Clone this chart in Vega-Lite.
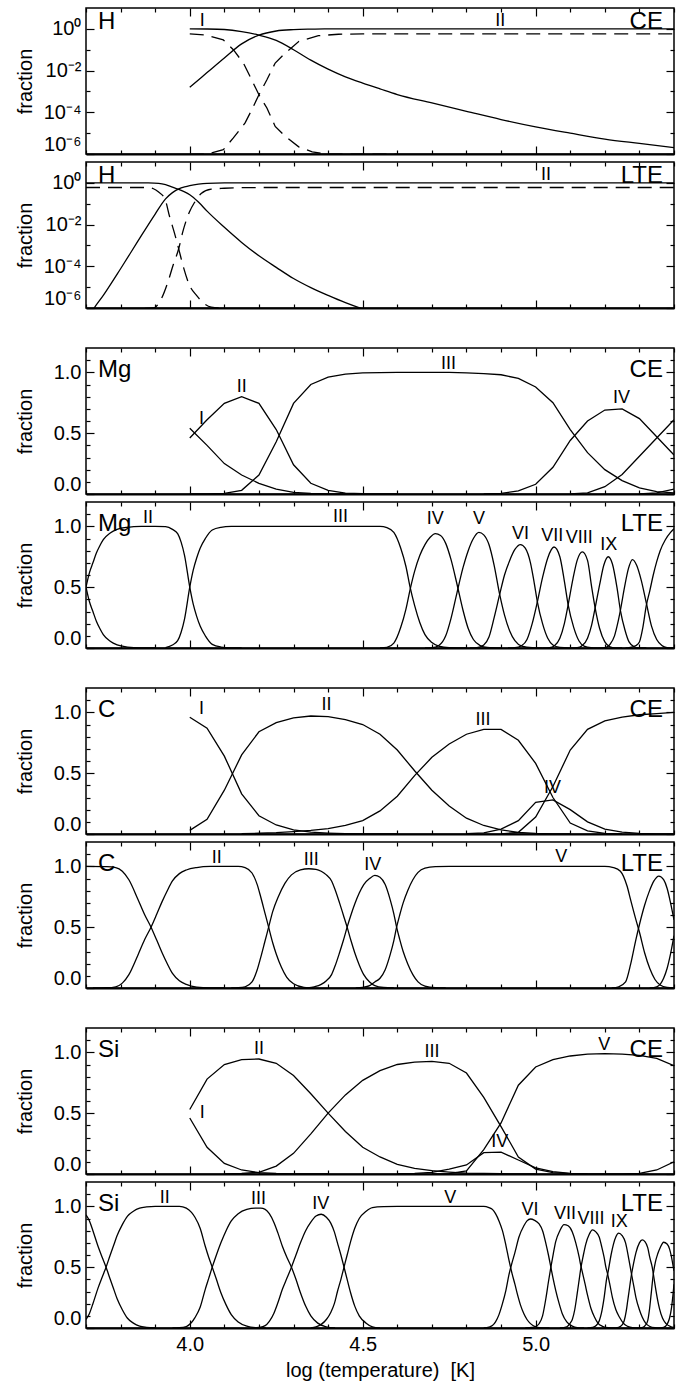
{
"$schema": "https://vega.github.io/schema/vega-lite/v6.json",
"padding": {"left": 14, "top": 6, "right": 5, "bottom": 5},
"config": {
 "font": "Liberation Sans",
 "view": {"stroke": "black", "strokeWidth": 1.5},
 "axis": {"labelFont": "Liberation Sans", "labelFontSize": 20, "labelColor": "black", "titleFont": "Liberation Sans", "titleFontSize": 20, "titleFontWeight": "normal", "titleColor": "black", "grid": false, "tickColor": "black", "tickWidth": 1.2, "domainColor": "black"},
 "text": {"font": "Liberation Sans", "color": "black"},
 "line": {"color": "black", "strokeWidth": 1.3}
},
"datasets": {
"hce": [
{"ion":"H I","logT":4.0,"frac":1.0},{"ion":"H I","logT":4.05,"frac":0.985},{"ion":"H I","logT":4.1,"frac":0.93},{"ion":"H I","logT":4.15,"frac":0.74},{"ion":"H I","logT":4.2,"frac":0.5},{"ion":"H I","logT":4.25,"frac":0.28},{"ion":"H I","logT":4.3,"frac":0.1},{"ion":"H I","logT":4.35,"frac":0.0316},{"ion":"H I","logT":4.4,"frac":0.0117},{"ion":"H I","logT":4.45,"frac":0.005},{"ion":"H I","logT":4.5,"frac":0.0025},{"ion":"H I","logT":4.55,"frac":0.00132},{"ion":"H I","logT":4.6,"frac":0.00071},{"ion":"H I","logT":4.7,"frac":0.00028},{"ion":"H I","logT":4.8,"frac":0.000112},{"ion":"H I","logT":4.9,"frac":0.000045},{"ion":"H I","logT":5.0,"frac":0.00002},{"ion":"H I","logT":5.1,"frac":0.00001},{"ion":"H I","logT":5.2,"frac":0.0000052},{"ion":"H I","logT":5.3,"frac":0.0000032},{"ion":"H I","logT":5.4,"frac":0.000002},
{"ion":"H II","logT":4.0,"frac":0.0016},{"ion":"H II","logT":4.05,"frac":0.008},{"ion":"H II","logT":4.1,"frac":0.04},{"ion":"H II","logT":4.15,"frac":0.19},{"ion":"H II","logT":4.2,"frac":0.5},{"ion":"H II","logT":4.25,"frac":0.79},{"ion":"H II","logT":4.3,"frac":0.92},{"ion":"H II","logT":4.35,"frac":0.97},{"ion":"H II","logT":4.4,"frac":0.99},{"ion":"H II","logT":4.5,"frac":0.998},{"ion":"H II","logT":4.7,"frac":1.0},{"ion":"H II","logT":5.4,"frac":1.0}
],
"hce2": [
{"ion":"H I'","logT":4.0,"frac":0.575},{"ion":"H I'","logT":4.044,"frac":0.51},{"ion":"H I'","logT":4.097,"frac":0.295},{"ion":"H I'","logT":4.126,"frac":0.1},{"ion":"H I'","logT":4.155,"frac":0.023},{"ion":"H I'","logT":4.179,"frac":0.0036},{"ion":"H I'","logT":4.2,"frac":0.00069},{"ion":"H I'","logT":4.223,"frac":0.00016},{"ion":"H I'","logT":4.247,"frac":0.000021},{"ion":"H I'","logT":4.276,"frac":0.0000071},{"ion":"H I'","logT":4.315,"frac":0.0000022},{"ion":"H I'","logT":4.354,"frac":0.00000126},{"ion":"H I'","logT":4.4,"frac":0.00000098},{"ion":"H I'","logT":4.6,"frac":0.00000097},
{"ion":"H II'","logT":4.0,"frac":0.00000097},{"ion":"H II'","logT":4.05,"frac":0.00000098},{"ion":"H II'","logT":4.097,"frac":0.0000016},{"ion":"H II'","logT":4.126,"frac":0.0000059},{"ion":"H II'","logT":4.16,"frac":0.000031},{"ion":"H II'","logT":4.179,"frac":0.00013},{"ion":"H II'","logT":4.2,"frac":0.00069},{"ion":"H II'","logT":4.223,"frac":0.0036},{"ion":"H II'","logT":4.247,"frac":0.023},{"ion":"H II'","logT":4.276,"frac":0.069},{"ion":"H II'","logT":4.315,"frac":0.245},{"ion":"H II'","logT":4.372,"frac":0.47},{"ion":"H II'","logT":4.43,"frac":0.55},{"ion":"H II'","logT":4.5,"frac":0.575},{"ion":"H II'","logT":5.4,"frac":0.575}
],
"hlte": [
{"ion":"H I","logT":3.7,"frac":1.0},{"ion":"H I","logT":3.85,"frac":0.998},{"ion":"H I","logT":3.88,"frac":0.99},{"ion":"H I","logT":3.91,"frac":0.95},{"ion":"H I","logT":3.93,"frac":0.83},{"ion":"H I","logT":3.95,"frac":0.63},{"ion":"H I","logT":3.97,"frac":0.47},{"ion":"H I","logT":3.985,"frac":0.37},{"ion":"H I","logT":4.0,"frac":0.27},{"ion":"H I","logT":4.025,"frac":0.12},{"ion":"H I","logT":4.05,"frac":0.044},{"ion":"H I","logT":4.1,"frac":0.0074},{"ion":"H I","logT":4.15,"frac":0.0014},{"ion":"H I","logT":4.2,"frac":0.00032},{"ion":"H I","logT":4.25,"frac":0.000089},{"ion":"H I","logT":4.3,"frac":0.000026},{"ion":"H I","logT":4.35,"frac":0.0000095},{"ion":"H I","logT":4.4,"frac":0.000004},{"ion":"H I","logT":4.45,"frac":0.0000018},{"ion":"H I","logT":4.5,"frac":0.0000009},{"ion":"H I","logT":4.55,"frac":0.0000005},
{"ion":"H II","logT":3.7,"frac":0.0000002},{"ion":"H II","logT":3.72,"frac":0.0000008},{"ion":"H II","logT":3.75,"frac":0.000004},{"ion":"H II","logT":3.8,"frac":0.000076},{"ion":"H II","logT":3.85,"frac":0.0016},{"ion":"H II","logT":3.9,"frac":0.032},{"ion":"H II","logT":3.93,"frac":0.17},{"ion":"H II","logT":3.95,"frac":0.34},{"ion":"H II","logT":3.97,"frac":0.53},{"ion":"H II","logT":3.985,"frac":0.64},{"ion":"H II","logT":4.0,"frac":0.74},{"ion":"H II","logT":4.025,"frac":0.87},{"ion":"H II","logT":4.05,"frac":0.95},{"ion":"H II","logT":4.1,"frac":0.99},{"ion":"H II","logT":4.2,"frac":1.0},{"ion":"H II","logT":5.4,"frac":1.0}
],
"hlte2": [
{"ion":"H I'","logT":3.7,"frac":0.6},{"ion":"H I'","logT":3.88,"frac":0.6},{"ion":"H I'","logT":3.895,"frac":0.52},{"ion":"H I'","logT":3.909,"frac":0.37},{"ion":"H I'","logT":3.928,"frac":0.17},{"ion":"H I'","logT":3.942,"frac":0.023},{"ion":"H I'","logT":3.956,"frac":0.0038},{"ion":"H I'","logT":3.968,"frac":0.00069},{"ion":"H I'","logT":3.98,"frac":0.000115},{"ion":"H I'","logT":3.999,"frac":0.0000126},{"ion":"H I'","logT":4.019,"frac":0.0000041},{"ion":"H I'","logT":4.062,"frac":0.0000011},{"ion":"H I'","logT":4.1,"frac":0.00000097},
{"ion":"H II'","logT":3.87,"frac":0.00000097},{"ion":"H II'","logT":3.894,"frac":0.000001},{"ion":"H II'","logT":3.918,"frac":0.0000028},{"ion":"H II'","logT":3.937,"frac":0.000018},{"ion":"H II'","logT":3.952,"frac":0.000115},{"ion":"H II'","logT":3.968,"frac":0.00069},{"ion":"H II'","logT":3.98,"frac":0.0046},{"ion":"H II'","logT":3.999,"frac":0.04},{"ion":"H II'","logT":4.014,"frac":0.117},{"ion":"H II'","logT":4.033,"frac":0.31},{"ion":"H II'","logT":4.062,"frac":0.5},{"ion":"H II'","logT":4.1,"frac":0.55},{"ion":"H II'","logT":4.15,"frac":0.59},{"ion":"H II'","logT":4.25,"frac":0.6},{"ion":"H II'","logT":5.4,"frac":0.6}
],
"mgce": [
{"ion":"I","logT":4.0,"frac":0.54},{"ion":"I","logT":4.05,"frac":0.40},{"ion":"I","logT":4.1,"frac":0.25},{"ion":"I","logT":4.15,"frac":0.156},{"ion":"I","logT":4.2,"frac":0.088},{"ion":"I","logT":4.25,"frac":0.04},{"ion":"I","logT":4.3,"frac":0.014},{"ion":"I","logT":4.35,"frac":0.004},{"ion":"I","logT":4.4,"frac":0.001},{"ion":"I","logT":4.5,"frac":0},
{"ion":"II","logT":4.0,"frac":0.46},{"ion":"II","logT":4.05,"frac":0.61},{"ion":"II","logT":4.1,"frac":0.745},{"ion":"II","logT":4.15,"frac":0.8},{"ion":"II","logT":4.2,"frac":0.745},{"ion":"II","logT":4.25,"frac":0.53},{"ion":"II","logT":4.3,"frac":0.24},{"ion":"II","logT":4.35,"frac":0.088},{"ion":"II","logT":4.4,"frac":0.03},{"ion":"II","logT":4.45,"frac":0.008},{"ion":"II","logT":4.5,"frac":0.002},{"ion":"II","logT":4.6,"frac":0},
{"ion":"III","logT":4.0,"frac":0},{"ion":"III","logT":4.05,"frac":0.001},{"ion":"III","logT":4.1,"frac":0.005},{"ion":"III","logT":4.15,"frac":0.03},{"ion":"III","logT":4.2,"frac":0.156},{"ion":"III","logT":4.25,"frac":0.43},{"ion":"III","logT":4.3,"frac":0.745},{"ion":"III","logT":4.35,"frac":0.9},{"ion":"III","logT":4.4,"frac":0.96},{"ion":"III","logT":4.45,"frac":0.985},{"ion":"III","logT":4.5,"frac":0.995},{"ion":"III","logT":4.6,"frac":1.0},{"ion":"III","logT":4.75,"frac":1.0},{"ion":"III","logT":4.8,"frac":0.995},{"ion":"III","logT":4.85,"frac":0.99},{"ion":"III","logT":4.9,"frac":0.98},{"ion":"III","logT":4.95,"frac":0.95},{"ion":"III","logT":5.0,"frac":0.88},{"ion":"III","logT":5.05,"frac":0.75},{"ion":"III","logT":5.1,"frac":0.53},{"ion":"III","logT":5.15,"frac":0.34},{"ion":"III","logT":5.2,"frac":0.2},{"ion":"III","logT":5.25,"frac":0.11},{"ion":"III","logT":5.3,"frac":0.05},{"ion":"III","logT":5.35,"frac":0.02},{"ion":"III","logT":5.4,"frac":0.01},
{"ion":"IV","logT":4.85,"frac":0},{"ion":"IV","logT":4.9,"frac":0.005},{"ion":"IV","logT":4.95,"frac":0.025},{"ion":"IV","logT":5.0,"frac":0.08},{"ion":"IV","logT":5.05,"frac":0.22},{"ion":"IV","logT":5.1,"frac":0.44},{"ion":"IV","logT":5.15,"frac":0.6},{"ion":"IV","logT":5.2,"frac":0.69},{"ion":"IV","logT":5.25,"frac":0.7},{"ion":"IV","logT":5.3,"frac":0.62},{"ion":"IV","logT":5.35,"frac":0.47},{"ion":"IV","logT":5.4,"frac":0.32},
{"ion":"V","logT":5.1,"frac":0},{"ion":"V","logT":5.15,"frac":0.01},{"ion":"V","logT":5.2,"frac":0.06},{"ion":"V","logT":5.25,"frac":0.16},{"ion":"V","logT":5.3,"frac":0.31},{"ion":"V","logT":5.35,"frac":0.46},{"ion":"V","logT":5.4,"frac":0.61},
{"ion":"VI","logT":5.3,"frac":0},{"ion":"VI","logT":5.35,"frac":0.01},{"ion":"VI","logT":5.4,"frac":0.04}
],
"mglte": [
{"ion":"I","logT":3.7,"frac":0.5},{"ion":"I","logT":3.71,"frac":0.38},{"ion":"I","logT":3.72,"frac":0.3},{"ion":"I","logT":3.73,"frac":0.22},{"ion":"I","logT":3.74,"frac":0.16},{"ion":"I","logT":3.75,"frac":0.11},{"ion":"I","logT":3.77,"frac":0.055},{"ion":"I","logT":3.79,"frac":0.025},{"ion":"I","logT":3.82,"frac":0.008},{"ion":"I","logT":3.86,"frac":0.001},{"ion":"I","logT":3.9,"frac":0},
{"ion":"II","logT":3.7,"frac":0.5},{"ion":"II","logT":3.71,"frac":0.62},{"ion":"II","logT":3.72,"frac":0.7},{"ion":"II","logT":3.73,"frac":0.78},{"ion":"II","logT":3.74,"frac":0.84},{"ion":"II","logT":3.75,"frac":0.89},{"ion":"II","logT":3.77,"frac":0.945},{"ion":"II","logT":3.79,"frac":0.975},{"ion":"II","logT":3.82,"frac":0.992},{"ion":"II","logT":3.86,"frac":0.999},{"ion":"II","logT":3.9,"frac":1.0},{"ion":"II","logT":3.93,"frac":0.997},{"ion":"II","logT":3.95,"frac":0.975},{"ion":"II","logT":3.965,"frac":0.94},{"ion":"II","logT":3.975,"frac":0.87},{"ion":"II","logT":3.985,"frac":0.76},{"ion":"II","logT":4.0,"frac":0.5},{"ion":"II","logT":4.01,"frac":0.36},{"ion":"II","logT":4.02,"frac":0.26},{"ion":"II","logT":4.03,"frac":0.18},{"ion":"II","logT":4.045,"frac":0.1},{"ion":"II","logT":4.065,"frac":0.03},{"ion":"II","logT":4.09,"frac":0.008},{"ion":"II","logT":4.12,"frac":0.001},{"ion":"II","logT":4.15,"frac":0},
{"ion":"III","logT":3.93,"frac":0.003},{"ion":"III","logT":3.95,"frac":0.025},{"ion":"III","logT":3.965,"frac":0.06},{"ion":"III","logT":3.975,"frac":0.13},{"ion":"III","logT":3.985,"frac":0.24},{"ion":"III","logT":4.0,"frac":0.5},{"ion":"III","logT":4.01,"frac":0.64},{"ion":"III","logT":4.02,"frac":0.74},{"ion":"III","logT":4.03,"frac":0.82},{"ion":"III","logT":4.045,"frac":0.9},{"ion":"III","logT":4.065,"frac":0.97},{"ion":"III","logT":4.09,"frac":0.992},{"ion":"III","logT":4.12,"frac":0.999},{"ion":"III","logT":4.15,"frac":1.0},{"ion":"III","logT":4.55,"frac":1.0},{"ion":"III","logT":4.57,"frac":0.99},{"ion":"III","logT":4.59,"frac":0.95},{"ion":"III","logT":4.61,"frac":0.82},{"ion":"III","logT":4.625,"frac":0.67},{"ion":"III","logT":4.637,"frac":0.5},{"ion":"III","logT":4.65,"frac":0.35},{"ion":"III","logT":4.665,"frac":0.21},{"ion":"III","logT":4.68,"frac":0.11},{"ion":"III","logT":4.7,"frac":0.045},{"ion":"III","logT":4.72,"frac":0.015},{"ion":"III","logT":4.75,"frac":0.002},{"ion":"III","logT":4.8,"frac":0},
{"ion":"IV","logT":4.55,"frac":0},{"ion":"IV","logT":4.57,"frac":0.005},{"ion":"IV","logT":4.59,"frac":0.04},{"ion":"IV","logT":4.61,"frac":0.17},{"ion":"IV","logT":4.625,"frac":0.32},{"ion":"IV","logT":4.637,"frac":0.48},{"ion":"IV","logT":4.65,"frac":0.63},{"ion":"IV","logT":4.665,"frac":0.76},{"ion":"IV","logT":4.68,"frac":0.85},{"ion":"IV","logT":4.695,"frac":0.91},{"ion":"IV","logT":4.71,"frac":0.94},{"ion":"IV","logT":4.725,"frac":0.925},{"ion":"IV","logT":4.74,"frac":0.86},{"ion":"IV","logT":4.755,"frac":0.73},{"ion":"IV","logT":4.773,"frac":0.52},{"ion":"IV","logT":4.79,"frac":0.31},{"ion":"IV","logT":4.805,"frac":0.16},{"ion":"IV","logT":4.82,"frac":0.07},{"ion":"IV","logT":4.84,"frac":0.02},{"ion":"IV","logT":4.86,"frac":0.004},{"ion":"IV","logT":4.9,"frac":0},
{"ion":"V","logT":4.68,"frac":0},{"ion":"V","logT":4.7,"frac":0.002},{"ion":"V","logT":4.72,"frac":0.02},{"ion":"V","logT":4.74,"frac":0.1},{"ion":"V","logT":4.755,"frac":0.24},{"ion":"V","logT":4.773,"frac":0.46},{"ion":"V","logT":4.79,"frac":0.66},{"ion":"V","logT":4.805,"frac":0.8},{"ion":"V","logT":4.82,"frac":0.9},{"ion":"V","logT":4.836,"frac":0.95},{"ion":"V","logT":4.85,"frac":0.93},{"ion":"V","logT":4.865,"frac":0.85},{"ion":"V","logT":4.88,"frac":0.68},{"ion":"V","logT":4.896,"frac":0.44},{"ion":"V","logT":4.91,"frac":0.27},{"ion":"V","logT":4.925,"frac":0.14},{"ion":"V","logT":4.94,"frac":0.06},{"ion":"V","logT":4.96,"frac":0.015},{"ion":"V","logT":4.99,"frac":0.002},{"ion":"V","logT":5.02,"frac":0},
{"ion":"VI","logT":4.81,"frac":0},{"ion":"VI","logT":4.83,"frac":0.002},{"ion":"VI","logT":4.85,"frac":0.025},{"ion":"VI","logT":4.865,"frac":0.09},{"ion":"VI","logT":4.88,"frac":0.25},{"ion":"VI","logT":4.896,"frac":0.44},{"ion":"VI","logT":4.91,"frac":0.6},{"ion":"VI","logT":4.925,"frac":0.72},{"ion":"VI","logT":4.94,"frac":0.81},{"ion":"VI","logT":4.956,"frac":0.85},{"ion":"VI","logT":4.97,"frac":0.82},{"ion":"VI","logT":4.985,"frac":0.7},{"ion":"VI","logT":4.995,"frac":0.55},{"ion":"VI","logT":5.005,"frac":0.38},{"ion":"VI","logT":5.02,"frac":0.2},{"ion":"VI","logT":5.035,"frac":0.08},{"ion":"VI","logT":5.05,"frac":0.025},{"ion":"VI","logT":5.07,"frac":0.005},{"ion":"VI","logT":5.1,"frac":0},
{"ion":"VII","logT":4.92,"frac":0},{"ion":"VII","logT":4.94,"frac":0.002},{"ion":"VII","logT":4.96,"frac":0.02},{"ion":"VII","logT":4.975,"frac":0.07},{"ion":"VII","logT":4.99,"frac":0.2},{"ion":"VII","logT":5.005,"frac":0.38},{"ion":"VII","logT":5.02,"frac":0.58},{"ion":"VII","logT":5.035,"frac":0.74},{"ion":"VII","logT":5.053,"frac":0.83},{"ion":"VII","logT":5.07,"frac":0.75},{"ion":"VII","logT":5.083,"frac":0.55},{"ion":"VII","logT":5.094,"frac":0.355},{"ion":"VII","logT":5.11,"frac":0.17},{"ion":"VII","logT":5.125,"frac":0.06},{"ion":"VII","logT":5.14,"frac":0.015},{"ion":"VII","logT":5.16,"frac":0.002},{"ion":"VII","logT":5.18,"frac":0},
{"ion":"VIII","logT":5.02,"frac":0},{"ion":"VIII","logT":5.04,"frac":0.002},{"ion":"VIII","logT":5.055,"frac":0.02},{"ion":"VIII","logT":5.07,"frac":0.08},{"ion":"VIII","logT":5.083,"frac":0.2},{"ion":"VIII","logT":5.094,"frac":0.355},{"ion":"VIII","logT":5.108,"frac":0.57},{"ion":"VIII","logT":5.12,"frac":0.72},{"ion":"VIII","logT":5.135,"frac":0.79},{"ion":"VIII","logT":5.15,"frac":0.72},{"ion":"VIII","logT":5.162,"frac":0.5},{"ion":"VIII","logT":5.172,"frac":0.33},{"ion":"VIII","logT":5.185,"frac":0.16},{"ion":"VIII","logT":5.2,"frac":0.05},{"ion":"VIII","logT":5.215,"frac":0.01},{"ion":"VIII","logT":5.23,"frac":0.001},{"ion":"VIII","logT":5.25,"frac":0},
{"ion":"IX","logT":5.1,"frac":0},{"ion":"IX","logT":5.12,"frac":0.002},{"ion":"IX","logT":5.135,"frac":0.02},{"ion":"IX","logT":5.15,"frac":0.08},{"ion":"IX","logT":5.162,"frac":0.19},{"ion":"IX","logT":5.172,"frac":0.33},{"ion":"IX","logT":5.185,"frac":0.52},{"ion":"IX","logT":5.197,"frac":0.68},{"ion":"IX","logT":5.21,"frac":0.75},{"ion":"IX","logT":5.222,"frac":0.69},{"ion":"IX","logT":5.235,"frac":0.5},{"ion":"IX","logT":5.245,"frac":0.31},{"ion":"IX","logT":5.258,"frac":0.15},{"ion":"IX","logT":5.27,"frac":0.05},{"ion":"IX","logT":5.285,"frac":0.01},{"ion":"IX","logT":5.3,"frac":0.001},{"ion":"IX","logT":5.32,"frac":0},
{"ion":"X","logT":5.18,"frac":0},{"ion":"X","logT":5.2,"frac":0.002},{"ion":"X","logT":5.215,"frac":0.03},{"ion":"X","logT":5.228,"frac":0.1},{"ion":"X","logT":5.237,"frac":0.2},{"ion":"X","logT":5.245,"frac":0.31},{"ion":"X","logT":5.257,"frac":0.5},{"ion":"X","logT":5.268,"frac":0.65},{"ion":"X","logT":5.28,"frac":0.727},{"ion":"X","logT":5.292,"frac":0.68},{"ion":"X","logT":5.305,"frac":0.56},{"ion":"X","logT":5.32,"frac":0.37},{"ion":"X","logT":5.335,"frac":0.18},{"ion":"X","logT":5.35,"frac":0.07},{"ion":"X","logT":5.365,"frac":0.02},{"ion":"X","logT":5.38,"frac":0.003},{"ion":"X","logT":5.4,"frac":0},
{"ion":"XI","logT":5.26,"frac":0},{"ion":"XI","logT":5.27,"frac":0.002},{"ion":"XI","logT":5.29,"frac":0.02},{"ion":"XI","logT":5.3,"frac":0.05},{"ion":"XI","logT":5.31,"frac":0.17},{"ion":"XI","logT":5.32,"frac":0.35},{"ion":"XI","logT":5.33,"frac":0.47},{"ion":"XI","logT":5.34,"frac":0.6},{"ion":"XI","logT":5.35,"frac":0.71},{"ion":"XI","logT":5.36,"frac":0.8},{"ion":"XI","logT":5.375,"frac":0.89},{"ion":"XI","logT":5.39,"frac":0.95},{"ion":"XI","logT":5.4,"frac":0.98}
],
"cce": [
{"ion":"I","logT":4.0,"frac":0.96},{"ion":"I","logT":4.05,"frac":0.87},{"ion":"I","logT":4.1,"frac":0.64},{"ion":"I","logT":4.15,"frac":0.33},{"ion":"I","logT":4.2,"frac":0.15},{"ion":"I","logT":4.25,"frac":0.074},{"ion":"I","logT":4.3,"frac":0.033},{"ion":"I","logT":4.35,"frac":0.016},{"ion":"I","logT":4.4,"frac":0.008},{"ion":"I","logT":4.45,"frac":0.003},{"ion":"I","logT":4.5,"frac":0.001},{"ion":"I","logT":4.6,"frac":0},
{"ion":"II","logT":4.0,"frac":0.03},{"ion":"II","logT":4.05,"frac":0.12},{"ion":"II","logT":4.1,"frac":0.36},{"ion":"II","logT":4.15,"frac":0.65},{"ion":"II","logT":4.2,"frac":0.84},{"ion":"II","logT":4.25,"frac":0.915},{"ion":"II","logT":4.3,"frac":0.955},{"ion":"II","logT":4.35,"frac":0.97},{"ion":"II","logT":4.4,"frac":0.965},{"ion":"II","logT":4.45,"frac":0.94},{"ion":"II","logT":4.5,"frac":0.9},{"ion":"II","logT":4.55,"frac":0.82},{"ion":"II","logT":4.6,"frac":0.69},{"ion":"II","logT":4.65,"frac":0.52},{"ion":"II","logT":4.7,"frac":0.36},{"ion":"II","logT":4.75,"frac":0.23},{"ion":"II","logT":4.8,"frac":0.13},{"ion":"II","logT":4.85,"frac":0.07},{"ion":"II","logT":4.9,"frac":0.033},{"ion":"II","logT":4.95,"frac":0.014},{"ion":"II","logT":5.0,"frac":0.005},{"ion":"II","logT":5.05,"frac":0.001},{"ion":"II","logT":5.1,"frac":0},
{"ion":"III","logT":4.15,"frac":0.003},{"ion":"III","logT":4.2,"frac":0.006},{"ion":"III","logT":4.25,"frac":0.011},{"ion":"III","logT":4.3,"frac":0.02},{"ion":"III","logT":4.35,"frac":0.03},{"ion":"III","logT":4.4,"frac":0.045},{"ion":"III","logT":4.45,"frac":0.07},{"ion":"III","logT":4.5,"frac":0.11},{"ion":"III","logT":4.55,"frac":0.19},{"ion":"III","logT":4.6,"frac":0.31},{"ion":"III","logT":4.65,"frac":0.48},{"ion":"III","logT":4.7,"frac":0.63},{"ion":"III","logT":4.75,"frac":0.74},{"ion":"III","logT":4.8,"frac":0.82},{"ion":"III","logT":4.85,"frac":0.86},{"ion":"III","logT":4.9,"frac":0.86},{"ion":"III","logT":4.95,"frac":0.77},{"ion":"III","logT":5.0,"frac":0.58},{"ion":"III","logT":5.05,"frac":0.3},{"ion":"III","logT":5.1,"frac":0.09},{"ion":"III","logT":5.15,"frac":0.025},{"ion":"III","logT":5.2,"frac":0.005},{"ion":"III","logT":5.25,"frac":0},
{"ion":"IV","logT":4.8,"frac":0.003},{"ion":"IV","logT":4.85,"frac":0.01},{"ion":"IV","logT":4.9,"frac":0.04},{"ion":"IV","logT":4.95,"frac":0.11},{"ion":"IV","logT":5.0,"frac":0.26},{"ion":"IV","logT":5.05,"frac":0.28},{"ion":"IV","logT":5.1,"frac":0.2},{"ion":"IV","logT":5.15,"frac":0.1},{"ion":"IV","logT":5.2,"frac":0.04},{"ion":"IV","logT":5.25,"frac":0.015},{"ion":"IV","logT":5.3,"frac":0.005},{"ion":"IV","logT":5.35,"frac":0.001},{"ion":"IV","logT":5.4,"frac":0},
{"ion":"V","logT":4.9,"frac":0.001},{"ion":"V","logT":4.95,"frac":0.014},{"ion":"V","logT":5.0,"frac":0.14},{"ion":"V","logT":5.05,"frac":0.39},{"ion":"V","logT":5.1,"frac":0.69},{"ion":"V","logT":5.15,"frac":0.86},{"ion":"V","logT":5.2,"frac":0.93},{"ion":"V","logT":5.25,"frac":0.96},{"ion":"V","logT":5.3,"frac":0.98},{"ion":"V","logT":5.35,"frac":0.99},{"ion":"V","logT":5.4,"frac":1.0}
],
"clte": [
{"ion":"I","logT":3.7,"frac":1.0},{"ion":"I","logT":3.76,"frac":0.998},{"ion":"I","logT":3.786,"frac":0.99},{"ion":"I","logT":3.805,"frac":0.96},{"ion":"I","logT":3.824,"frac":0.89},{"ion":"I","logT":3.85,"frac":0.73},{"ion":"I","logT":3.87,"frac":0.6},{"ion":"I","logT":3.888,"frac":0.5},{"ion":"I","logT":3.905,"frac":0.39},{"ion":"I","logT":3.92,"frac":0.29},{"ion":"I","logT":3.935,"frac":0.2},{"ion":"I","logT":3.95,"frac":0.12},{"ion":"I","logT":3.97,"frac":0.06},{"ion":"I","logT":3.99,"frac":0.03},{"ion":"I","logT":4.02,"frac":0.008},{"ion":"I","logT":4.06,"frac":0.001},{"ion":"I","logT":4.1,"frac":0},
{"ion":"II","logT":3.72,"frac":0},{"ion":"II","logT":3.76,"frac":0.002},{"ion":"II","logT":3.786,"frac":0.01},{"ion":"II","logT":3.805,"frac":0.04},{"ion":"II","logT":3.824,"frac":0.11},{"ion":"II","logT":3.85,"frac":0.27},{"ion":"II","logT":3.87,"frac":0.4},{"ion":"II","logT":3.888,"frac":0.5},{"ion":"II","logT":3.905,"frac":0.61},{"ion":"II","logT":3.92,"frac":0.71},{"ion":"II","logT":3.935,"frac":0.8},{"ion":"II","logT":3.95,"frac":0.88},{"ion":"II","logT":3.97,"frac":0.94},{"ion":"II","logT":3.99,"frac":0.97},{"ion":"II","logT":4.02,"frac":0.99},{"ion":"II","logT":4.06,"frac":0.999},{"ion":"II","logT":4.1,"frac":1.0},{"ion":"II","logT":4.14,"frac":1.0},{"ion":"II","logT":4.16,"frac":0.99},{"ion":"II","logT":4.18,"frac":0.945},{"ion":"II","logT":4.195,"frac":0.85},{"ion":"II","logT":4.205,"frac":0.75},{"ion":"II","logT":4.217,"frac":0.62},{"ion":"II","logT":4.228,"frac":0.5},{"ion":"II","logT":4.24,"frac":0.37},{"ion":"II","logT":4.25,"frac":0.28},{"ion":"II","logT":4.265,"frac":0.17},{"ion":"II","logT":4.28,"frac":0.09},{"ion":"II","logT":4.3,"frac":0.035},{"ion":"II","logT":4.33,"frac":0.006},{"ion":"II","logT":4.36,"frac":0},
{"ion":"III","logT":4.12,"frac":0},{"ion":"III","logT":4.14,"frac":0.002},{"ion":"III","logT":4.16,"frac":0.01},{"ion":"III","logT":4.18,"frac":0.05},{"ion":"III","logT":4.195,"frac":0.15},{"ion":"III","logT":4.205,"frac":0.25},{"ion":"III","logT":4.217,"frac":0.38},{"ion":"III","logT":4.228,"frac":0.5},{"ion":"III","logT":4.24,"frac":0.63},{"ion":"III","logT":4.256,"frac":0.75},{"ion":"III","logT":4.275,"frac":0.86},{"ion":"III","logT":4.294,"frac":0.93},{"ion":"III","logT":4.32,"frac":0.97},{"ion":"III","logT":4.344,"frac":0.98},{"ion":"III","logT":4.365,"frac":0.975},{"ion":"III","logT":4.38,"frac":0.96},{"ion":"III","logT":4.395,"frac":0.93},{"ion":"III","logT":4.41,"frac":0.88},{"ion":"III","logT":4.42,"frac":0.81},{"ion":"III","logT":4.433,"frac":0.7},{"ion":"III","logT":4.444,"frac":0.6},{"ion":"III","logT":4.455,"frac":0.5},{"ion":"III","logT":4.466,"frac":0.39},{"ion":"III","logT":4.477,"frac":0.29},{"ion":"III","logT":4.49,"frac":0.19},{"ion":"III","logT":4.503,"frac":0.11},{"ion":"III","logT":4.52,"frac":0.05},{"ion":"III","logT":4.535,"frac":0.02},{"ion":"III","logT":4.56,"frac":0.004},{"ion":"III","logT":4.59,"frac":0},
{"ion":"IV","logT":4.34,"frac":0},{"ion":"IV","logT":4.36,"frac":0.01},{"ion":"IV","logT":4.38,"frac":0.03},{"ion":"IV","logT":4.395,"frac":0.06},{"ion":"IV","logT":4.41,"frac":0.11},{"ion":"IV","logT":4.42,"frac":0.18},{"ion":"IV","logT":4.433,"frac":0.29},{"ion":"IV","logT":4.444,"frac":0.39},{"ion":"IV","logT":4.455,"frac":0.5},{"ion":"IV","logT":4.466,"frac":0.6},{"ion":"IV","logT":4.477,"frac":0.69},{"ion":"IV","logT":4.49,"frac":0.78},{"ion":"IV","logT":4.503,"frac":0.85},{"ion":"IV","logT":4.52,"frac":0.9},{"ion":"IV","logT":4.535,"frac":0.925},{"ion":"IV","logT":4.55,"frac":0.91},{"ion":"IV","logT":4.565,"frac":0.85},{"ion":"IV","logT":4.58,"frac":0.72},{"ion":"IV","logT":4.59,"frac":0.61},{"ion":"IV","logT":4.598,"frac":0.5},{"ion":"IV","logT":4.607,"frac":0.4},{"ion":"IV","logT":4.617,"frac":0.3},{"ion":"IV","logT":4.63,"frac":0.2},{"ion":"IV","logT":4.645,"frac":0.11},{"ion":"IV","logT":4.66,"frac":0.05},{"ion":"IV","logT":4.68,"frac":0.015},{"ion":"IV","logT":4.71,"frac":0.002},{"ion":"IV","logT":4.74,"frac":0},
{"ion":"V","logT":4.48,"frac":0},{"ion":"V","logT":4.5,"frac":0.005},{"ion":"V","logT":4.52,"frac":0.02},{"ion":"V","logT":4.535,"frac":0.05},{"ion":"V","logT":4.55,"frac":0.08},{"ion":"V","logT":4.565,"frac":0.15},{"ion":"V","logT":4.58,"frac":0.28},{"ion":"V","logT":4.59,"frac":0.39},{"ion":"V","logT":4.598,"frac":0.5},{"ion":"V","logT":4.607,"frac":0.6},{"ion":"V","logT":4.617,"frac":0.7},{"ion":"V","logT":4.63,"frac":0.8},{"ion":"V","logT":4.645,"frac":0.89},{"ion":"V","logT":4.66,"frac":0.95},{"ion":"V","logT":4.68,"frac":0.985},{"ion":"V","logT":4.71,"frac":0.998},{"ion":"V","logT":4.75,"frac":1.0},{"ion":"V","logT":5.2,"frac":1.0},{"ion":"V","logT":5.225,"frac":0.99},{"ion":"V","logT":5.245,"frac":0.96},{"ion":"V","logT":5.264,"frac":0.84},{"ion":"V","logT":5.275,"frac":0.72},{"ion":"V","logT":5.29,"frac":0.56},{"ion":"V","logT":5.3,"frac":0.46},{"ion":"V","logT":5.315,"frac":0.29},{"ion":"V","logT":5.33,"frac":0.16},{"ion":"V","logT":5.345,"frac":0.07},{"ion":"V","logT":5.36,"frac":0.025},{"ion":"V","logT":5.38,"frac":0.005},{"ion":"V","logT":5.4,"frac":0.001},
{"ion":"VI","logT":5.22,"frac":0},{"ion":"VI","logT":5.24,"frac":0.01},{"ion":"VI","logT":5.26,"frac":0.05},{"ion":"VI","logT":5.275,"frac":0.2},{"ion":"VI","logT":5.29,"frac":0.4},{"ion":"VI","logT":5.3,"frac":0.52},{"ion":"VI","logT":5.315,"frac":0.68},{"ion":"VI","logT":5.328,"frac":0.79},{"ion":"VI","logT":5.342,"frac":0.88},{"ion":"VI","logT":5.356,"frac":0.92},{"ion":"VI","logT":5.37,"frac":0.89},{"ion":"VI","logT":5.38,"frac":0.82},{"ion":"VI","logT":5.39,"frac":0.7},{"ion":"VI","logT":5.4,"frac":0.56},
{"ion":"VII","logT":5.33,"frac":0},{"ion":"VII","logT":5.35,"frac":0.01},{"ion":"VII","logT":5.36,"frac":0.03},{"ion":"VII","logT":5.37,"frac":0.08},{"ion":"VII","logT":5.38,"frac":0.16},{"ion":"VII","logT":5.39,"frac":0.28},{"ion":"VII","logT":5.4,"frac":0.43}
],
"sice": [
{"ion":"I","logT":4.0,"frac":0.46},{"ion":"I","logT":4.05,"frac":0.22},{"ion":"I","logT":4.1,"frac":0.087},{"ion":"I","logT":4.15,"frac":0.033},{"ion":"I","logT":4.2,"frac":0.011},{"ion":"I","logT":4.25,"frac":0.004},{"ion":"I","logT":4.3,"frac":0.001},{"ion":"I","logT":4.4,"frac":0},
{"ion":"II","logT":4.0,"frac":0.53},{"ion":"II","logT":4.05,"frac":0.78},{"ion":"II","logT":4.1,"frac":0.9},{"ion":"II","logT":4.15,"frac":0.94},{"ion":"II","logT":4.2,"frac":0.945},{"ion":"II","logT":4.25,"frac":0.91},{"ion":"II","logT":4.3,"frac":0.81},{"ion":"II","logT":4.35,"frac":0.66},{"ion":"II","logT":4.4,"frac":0.5},{"ion":"II","logT":4.45,"frac":0.35},{"ion":"II","logT":4.5,"frac":0.22},{"ion":"II","logT":4.55,"frac":0.14},{"ion":"II","logT":4.6,"frac":0.08},{"ion":"II","logT":4.65,"frac":0.046},{"ion":"II","logT":4.7,"frac":0.027},{"ion":"II","logT":4.75,"frac":0.016},{"ion":"II","logT":4.8,"frac":0.008},{"ion":"II","logT":4.85,"frac":0.004},{"ion":"II","logT":4.9,"frac":0.002},{"ion":"II","logT":5.0,"frac":0},
{"ion":"III","logT":4.1,"frac":0.001},{"ion":"III","logT":4.15,"frac":0.005},{"ion":"III","logT":4.2,"frac":0.014},{"ion":"III","logT":4.25,"frac":0.065},{"ion":"III","logT":4.3,"frac":0.17},{"ion":"III","logT":4.35,"frac":0.33},{"ion":"III","logT":4.4,"frac":0.5},{"ion":"III","logT":4.45,"frac":0.65},{"ion":"III","logT":4.5,"frac":0.77},{"ion":"III","logT":4.55,"frac":0.85},{"ion":"III","logT":4.6,"frac":0.9},{"ion":"III","logT":4.65,"frac":0.92},{"ion":"III","logT":4.7,"frac":0.925},{"ion":"III","logT":4.75,"frac":0.91},{"ion":"III","logT":4.8,"frac":0.83},{"ion":"III","logT":4.85,"frac":0.63},{"ion":"III","logT":4.9,"frac":0.39},{"ion":"III","logT":4.95,"frac":0.14},{"ion":"III","logT":5.0,"frac":0.04},{"ion":"III","logT":5.05,"frac":0.011},{"ion":"III","logT":5.1,"frac":0.003},{"ion":"III","logT":5.15,"frac":0},
{"ion":"IV","logT":4.6,"frac":0.002},{"ion":"IV","logT":4.65,"frac":0.005},{"ion":"IV","logT":4.7,"frac":0.014},{"ion":"IV","logT":4.75,"frac":0.04},{"ion":"IV","logT":4.8,"frac":0.074},{"ion":"IV","logT":4.85,"frac":0.175},{"ion":"IV","logT":4.9,"frac":0.18},{"ion":"IV","logT":4.95,"frac":0.115},{"ion":"IV","logT":5.0,"frac":0.05},{"ion":"IV","logT":5.05,"frac":0.02},{"ion":"IV","logT":5.1,"frac":0.005},{"ion":"IV","logT":5.15,"frac":0.001},{"ion":"IV","logT":5.2,"frac":0},
{"ion":"V","logT":4.7,"frac":0},{"ion":"V","logT":4.75,"frac":0.003},{"ion":"V","logT":4.8,"frac":0.025},{"ion":"V","logT":4.85,"frac":0.2},{"ion":"V","logT":4.9,"frac":0.42},{"ion":"V","logT":4.95,"frac":0.73},{"ion":"V","logT":5.0,"frac":0.88},{"ion":"V","logT":5.05,"frac":0.94},{"ion":"V","logT":5.1,"frac":0.97},{"ion":"V","logT":5.15,"frac":0.985},{"ion":"V","logT":5.2,"frac":0.99},{"ion":"V","logT":5.25,"frac":0.985},{"ion":"V","logT":5.3,"frac":0.975},{"ion":"V","logT":5.35,"frac":0.95},{"ion":"V","logT":5.4,"frac":0.89},
{"ion":"VI","logT":5.2,"frac":0},{"ion":"VI","logT":5.25,"frac":0.001},{"ion":"VI","logT":5.3,"frac":0.005},{"ion":"VI","logT":5.35,"frac":0.033},{"ion":"VI","logT":5.4,"frac":0.1}
],
"silte": [
{"ion":"I","logT":3.7,"frac":0.93},{"ion":"I","logT":3.71,"frac":0.88},{"ion":"I","logT":3.72,"frac":0.8},{"ion":"I","logT":3.735,"frac":0.67},{"ion":"I","logT":3.747,"frac":0.58},{"ion":"I","logT":3.758,"frac":0.5},{"ion":"I","logT":3.77,"frac":0.4},{"ion":"I","logT":3.78,"frac":0.32},{"ion":"I","logT":3.79,"frac":0.24},{"ion":"I","logT":3.805,"frac":0.15},{"ion":"I","logT":3.82,"frac":0.08},{"ion":"I","logT":3.837,"frac":0.04},{"ion":"I","logT":3.855,"frac":0.015},{"ion":"I","logT":3.875,"frac":0.005},{"ion":"I","logT":3.9,"frac":0},
{"ion":"II","logT":3.7,"frac":0.07},{"ion":"II","logT":3.71,"frac":0.12},{"ion":"II","logT":3.72,"frac":0.2},{"ion":"II","logT":3.735,"frac":0.33},{"ion":"II","logT":3.747,"frac":0.42},{"ion":"II","logT":3.758,"frac":0.5},{"ion":"II","logT":3.77,"frac":0.6},{"ion":"II","logT":3.78,"frac":0.68},{"ion":"II","logT":3.79,"frac":0.76},{"ion":"II","logT":3.805,"frac":0.85},{"ion":"II","logT":3.82,"frac":0.92},{"ion":"II","logT":3.837,"frac":0.96},{"ion":"II","logT":3.855,"frac":0.985},{"ion":"II","logT":3.875,"frac":0.995},{"ion":"II","logT":3.9,"frac":1.0},{"ion":"II","logT":3.97,"frac":1.0},{"ion":"II","logT":3.99,"frac":0.985},{"ion":"II","logT":4.005,"frac":0.95},{"ion":"II","logT":4.015,"frac":0.91},{"ion":"II","logT":4.03,"frac":0.82},{"ion":"II","logT":4.045,"frac":0.67},{"ion":"II","logT":4.055,"frac":0.58},{"ion":"II","logT":4.065,"frac":0.5},{"ion":"II","logT":4.077,"frac":0.4},{"ion":"II","logT":4.09,"frac":0.29},{"ion":"II","logT":4.105,"frac":0.19},{"ion":"II","logT":4.12,"frac":0.11},{"ion":"II","logT":4.14,"frac":0.05},{"ion":"II","logT":4.165,"frac":0.015},{"ion":"II","logT":4.19,"frac":0.003},{"ion":"II","logT":4.22,"frac":0},
{"ion":"III","logT":3.95,"frac":0},{"ion":"III","logT":3.97,"frac":0.002},{"ion":"III","logT":3.99,"frac":0.012},{"ion":"III","logT":4.005,"frac":0.045},{"ion":"III","logT":4.015,"frac":0.085},{"ion":"III","logT":4.03,"frac":0.17},{"ion":"III","logT":4.045,"frac":0.32},{"ion":"III","logT":4.055,"frac":0.41},{"ion":"III","logT":4.065,"frac":0.5},{"ion":"III","logT":4.077,"frac":0.6},{"ion":"III","logT":4.09,"frac":0.7},{"ion":"III","logT":4.105,"frac":0.8},{"ion":"III","logT":4.12,"frac":0.88},{"ion":"III","logT":4.14,"frac":0.94},{"ion":"III","logT":4.165,"frac":0.975},{"ion":"III","logT":4.19,"frac":0.985},{"ion":"III","logT":4.205,"frac":0.985},{"ion":"III","logT":4.218,"frac":0.975},{"ion":"III","logT":4.23,"frac":0.94},{"ion":"III","logT":4.243,"frac":0.87},{"ion":"III","logT":4.255,"frac":0.78},{"ion":"III","logT":4.268,"frac":0.67},{"ion":"III","logT":4.281,"frac":0.58},{"ion":"III","logT":4.294,"frac":0.5},{"ion":"III","logT":4.307,"frac":0.4},{"ion":"III","logT":4.32,"frac":0.29},{"ion":"III","logT":4.335,"frac":0.18},{"ion":"III","logT":4.35,"frac":0.1},{"ion":"III","logT":4.37,"frac":0.04},{"ion":"III","logT":4.395,"frac":0.01},{"ion":"III","logT":4.42,"frac":0},
{"ion":"IV","logT":4.18,"frac":0},{"ion":"IV","logT":4.2,"frac":0.005},{"ion":"IV","logT":4.218,"frac":0.02},{"ion":"IV","logT":4.23,"frac":0.055},{"ion":"IV","logT":4.243,"frac":0.12},{"ion":"IV","logT":4.255,"frac":0.21},{"ion":"IV","logT":4.268,"frac":0.32},{"ion":"IV","logT":4.281,"frac":0.41},{"ion":"IV","logT":4.294,"frac":0.5},{"ion":"IV","logT":4.307,"frac":0.6},{"ion":"IV","logT":4.32,"frac":0.7},{"ion":"IV","logT":4.335,"frac":0.8},{"ion":"IV","logT":4.35,"frac":0.87},{"ion":"IV","logT":4.365,"frac":0.92},{"ion":"IV","logT":4.38,"frac":0.935},{"ion":"IV","logT":4.395,"frac":0.91},{"ion":"IV","logT":4.408,"frac":0.86},{"ion":"IV","logT":4.418,"frac":0.79},{"ion":"IV","logT":4.427,"frac":0.7},{"ion":"IV","logT":4.437,"frac":0.6},{"ion":"IV","logT":4.446,"frac":0.5},{"ion":"IV","logT":4.455,"frac":0.4},{"ion":"IV","logT":4.465,"frac":0.29},{"ion":"IV","logT":4.477,"frac":0.18},{"ion":"IV","logT":4.49,"frac":0.1},{"ion":"IV","logT":4.51,"frac":0.04},{"ion":"IV","logT":4.528,"frac":0.01},{"ion":"IV","logT":4.55,"frac":0},
{"ion":"V","logT":4.35,"frac":0},{"ion":"V","logT":4.365,"frac":0.01},{"ion":"V","logT":4.38,"frac":0.03},{"ion":"V","logT":4.395,"frac":0.07},{"ion":"V","logT":4.408,"frac":0.13},{"ion":"V","logT":4.418,"frac":0.2},{"ion":"V","logT":4.427,"frac":0.3},{"ion":"V","logT":4.437,"frac":0.4},{"ion":"V","logT":4.446,"frac":0.5},{"ion":"V","logT":4.455,"frac":0.6},{"ion":"V","logT":4.465,"frac":0.71},{"ion":"V","logT":4.477,"frac":0.82},{"ion":"V","logT":4.49,"frac":0.9},{"ion":"V","logT":4.51,"frac":0.96},{"ion":"V","logT":4.528,"frac":0.99},{"ion":"V","logT":4.56,"frac":0.998},{"ion":"V","logT":4.6,"frac":1.0},{"ion":"V","logT":4.85,"frac":1.0},{"ion":"V","logT":4.865,"frac":0.99},{"ion":"V","logT":4.875,"frac":0.975},{"ion":"V","logT":4.884,"frac":0.94},{"ion":"V","logT":4.894,"frac":0.88},{"ion":"V","logT":4.904,"frac":0.8},{"ion":"V","logT":4.914,"frac":0.68},{"ion":"V","logT":4.923,"frac":0.555},{"ion":"V","logT":4.932,"frac":0.445},{"ion":"V","logT":4.94,"frac":0.36},{"ion":"V","logT":4.947,"frac":0.28},{"ion":"V","logT":4.956,"frac":0.19},{"ion":"V","logT":4.966,"frac":0.117},{"ion":"V","logT":4.975,"frac":0.07},{"ion":"V","logT":4.985,"frac":0.036},{"ion":"V","logT":5.0,"frac":0.01},{"ion":"V","logT":5.02,"frac":0.001},{"ion":"V","logT":5.04,"frac":0},
{"ion":"VI","logT":4.85,"frac":0},{"ion":"VI","logT":4.865,"frac":0.008},{"ion":"VI","logT":4.875,"frac":0.02},{"ion":"VI","logT":4.884,"frac":0.05},{"ion":"VI","logT":4.894,"frac":0.11},{"ion":"VI","logT":4.904,"frac":0.2},{"ion":"VI","logT":4.914,"frac":0.31},{"ion":"VI","logT":4.923,"frac":0.44},{"ion":"VI","logT":4.932,"frac":0.54},{"ion":"VI","logT":4.94,"frac":0.62},{"ion":"VI","logT":4.952,"frac":0.75},{"ion":"VI","logT":4.966,"frac":0.84},{"ion":"VI","logT":4.975,"frac":0.88},{"ion":"VI","logT":4.985,"frac":0.896},{"ion":"VI","logT":4.997,"frac":0.885},{"ion":"VI","logT":5.01,"frac":0.855},{"ion":"VI","logT":5.02,"frac":0.8},{"ion":"VI","logT":5.03,"frac":0.69},{"ion":"VI","logT":5.037,"frac":0.6},{"ion":"VI","logT":5.044,"frac":0.5},{"ion":"VI","logT":5.051,"frac":0.4},{"ion":"VI","logT":5.058,"frac":0.31},{"ion":"VI","logT":5.068,"frac":0.2},{"ion":"VI","logT":5.077,"frac":0.117},{"ion":"VI","logT":5.09,"frac":0.05},{"ion":"VI","logT":5.106,"frac":0.015},{"ion":"VI","logT":5.12,"frac":0.003},{"ion":"VI","logT":5.14,"frac":0},
{"ion":"VII","logT":4.97,"frac":0},{"ion":"VII","logT":4.99,"frac":0.005},{"ion":"VII","logT":5.0,"frac":0.012},{"ion":"VII","logT":5.01,"frac":0.035},{"ion":"VII","logT":5.02,"frac":0.1},{"ion":"VII","logT":5.03,"frac":0.25},{"ion":"VII","logT":5.037,"frac":0.38},{"ion":"VII","logT":5.044,"frac":0.5},{"ion":"VII","logT":5.051,"frac":0.61},{"ion":"VII","logT":5.058,"frac":0.71},{"ion":"VII","logT":5.07,"frac":0.8},{"ion":"VII","logT":5.082,"frac":0.85},{"ion":"VII","logT":5.094,"frac":0.84},{"ion":"VII","logT":5.106,"frac":0.79},{"ion":"VII","logT":5.116,"frac":0.7},{"ion":"VII","logT":5.126,"frac":0.58},{"ion":"VII","logT":5.13,"frac":0.52},{"ion":"VII","logT":5.135,"frac":0.46},{"ion":"VII","logT":5.143,"frac":0.36},{"ion":"VII","logT":5.15,"frac":0.27},{"ion":"VII","logT":5.16,"frac":0.16},{"ion":"VII","logT":5.17,"frac":0.09},{"ion":"VII","logT":5.18,"frac":0.04},{"ion":"VII","logT":5.193,"frac":0.014},{"ion":"VII","logT":5.21,"frac":0.002},{"ion":"VII","logT":5.23,"frac":0},
{"ion":"VIII","logT":5.07,"frac":0},{"ion":"VIII","logT":5.09,"frac":0.01},{"ion":"VIII","logT":5.1,"frac":0.04},{"ion":"VIII","logT":5.106,"frac":0.07},{"ion":"VIII","logT":5.113,"frac":0.15},{"ion":"VIII","logT":5.12,"frac":0.28},{"ion":"VIII","logT":5.126,"frac":0.4},{"ion":"VIII","logT":5.13,"frac":0.48},{"ion":"VIII","logT":5.138,"frac":0.6},{"ion":"VIII","logT":5.145,"frac":0.69},{"ion":"VIII","logT":5.155,"frac":0.77},{"ion":"VIII","logT":5.164,"frac":0.806},{"ion":"VIII","logT":5.174,"frac":0.79},{"ion":"VIII","logT":5.184,"frac":0.746},{"ion":"VIII","logT":5.19,"frac":0.68},{"ion":"VIII","logT":5.198,"frac":0.58},{"ion":"VIII","logT":5.203,"frac":0.5},{"ion":"VIII","logT":5.208,"frac":0.445},{"ion":"VIII","logT":5.215,"frac":0.35},{"ion":"VIII","logT":5.222,"frac":0.25},{"ion":"VIII","logT":5.232,"frac":0.15},{"ion":"VIII","logT":5.242,"frac":0.09},{"ion":"VIII","logT":5.255,"frac":0.035},{"ion":"VIII","logT":5.266,"frac":0.014},{"ion":"VIII","logT":5.28,"frac":0.003},{"ion":"VIII","logT":5.3,"frac":0},
{"ion":"IX","logT":5.15,"frac":0},{"ion":"IX","logT":5.165,"frac":0.005},{"ion":"IX","logT":5.175,"frac":0.02},{"ion":"IX","logT":5.184,"frac":0.06},{"ion":"IX","logT":5.19,"frac":0.12},{"ion":"IX","logT":5.198,"frac":0.25},{"ion":"IX","logT":5.205,"frac":0.4},{"ion":"IX","logT":5.21,"frac":0.47},{"ion":"IX","logT":5.218,"frac":0.6},{"ion":"IX","logT":5.225,"frac":0.69},{"ion":"IX","logT":5.232,"frac":0.75},{"ion":"IX","logT":5.24,"frac":0.78},{"ion":"IX","logT":5.25,"frac":0.76},{"ion":"IX","logT":5.26,"frac":0.7},{"ion":"IX","logT":5.27,"frac":0.555},{"ion":"IX","logT":5.278,"frac":0.43},{"ion":"IX","logT":5.284,"frac":0.34},{"ion":"IX","logT":5.29,"frac":0.25},{"ion":"IX","logT":5.3,"frac":0.15},{"ion":"IX","logT":5.308,"frac":0.09},{"ion":"IX","logT":5.318,"frac":0.04},{"ion":"IX","logT":5.329,"frac":0.014},{"ion":"IX","logT":5.345,"frac":0.002},{"ion":"IX","logT":5.36,"frac":0},
{"ion":"X","logT":5.23,"frac":0},{"ion":"X","logT":5.24,"frac":0.005},{"ion":"X","logT":5.25,"frac":0.025},{"ion":"X","logT":5.256,"frac":0.06},{"ion":"X","logT":5.262,"frac":0.14},{"ion":"X","logT":5.266,"frac":0.22},{"ion":"X","logT":5.27,"frac":0.3},{"ion":"X","logT":5.276,"frac":0.42},{"ion":"X","logT":5.283,"frac":0.53},{"ion":"X","logT":5.29,"frac":0.62},{"ion":"X","logT":5.3,"frac":0.7},{"ion":"X","logT":5.308,"frac":0.724},{"ion":"X","logT":5.316,"frac":0.71},{"ion":"X","logT":5.324,"frac":0.66},{"ion":"X","logT":5.33,"frac":0.58},{"ion":"X","logT":5.337,"frac":0.5},{"ion":"X","logT":5.34,"frac":0.45},{"ion":"X","logT":5.346,"frac":0.34},{"ion":"X","logT":5.352,"frac":0.24},{"ion":"X","logT":5.358,"frac":0.16},{"ion":"X","logT":5.367,"frac":0.08},{"ion":"X","logT":5.377,"frac":0.036},{"ion":"X","logT":5.39,"frac":0.012},{"ion":"X","logT":5.4,"frac":0.005},
{"ion":"XI","logT":5.3,"frac":0},{"ion":"XI","logT":5.31,"frac":0.005},{"ion":"XI","logT":5.318,"frac":0.025},{"ion":"XI","logT":5.324,"frac":0.06},{"ion":"XI","logT":5.329,"frac":0.15},{"ion":"XI","logT":5.334,"frac":0.28},{"ion":"XI","logT":5.34,"frac":0.44},{"ion":"XI","logT":5.346,"frac":0.54},{"ion":"XI","logT":5.353,"frac":0.61},{"ion":"XI","logT":5.36,"frac":0.66},{"ion":"XI","logT":5.37,"frac":0.705},{"ion":"XI","logT":5.38,"frac":0.69},{"ion":"XI","logT":5.387,"frac":0.65},{"ion":"XI","logT":5.393,"frac":0.58},{"ion":"XI","logT":5.398,"frac":0.5},{"ion":"XI","logT":5.4,"frac":0.47},
{"ion":"XII","logT":5.36,"frac":0},{"ion":"XII","logT":5.37,"frac":0.005},{"ion":"XII","logT":5.38,"frac":0.03},{"ion":"XII","logT":5.387,"frac":0.08},{"ion":"XII","logT":5.393,"frac":0.17},{"ion":"XII","logT":5.398,"frac":0.3},{"ion":"XII","logT":5.4,"frac":0.36}
],
"ionlabels": [
{"panel":"hce","logT":4.036,"frac":2.5,"text":"I"},{"panel":"hce","logT":4.898,"frac":2.5,"text":"II"},
{"panel":"hlte","logT":5.03,"frac":2.5,"text":"II"},
{"panel":"mgce","logT":4.034,"frac":0.62,"text":"I"},{"panel":"mgce","logT":4.15,"frac":0.88,"text":"II"},{"panel":"mgce","logT":4.748,"frac":1.07,"text":"III"},{"panel":"mgce","logT":5.248,"frac":0.79,"text":"IV"},
{"panel":"mglte","logT":3.879,"frac":1.07,"text":"II"},{"panel":"mglte","logT":4.436,"frac":1.08,"text":"III"},{"panel":"mglte","logT":4.71,"frac":1.06,"text":"IV"},{"panel":"mglte","logT":4.836,"frac":1.06,"text":"V"},{"panel":"mglte","logT":4.956,"frac":0.94,"text":"VI"},{"panel":"mglte","logT":5.048,"frac":0.92,"text":"VII"},{"panel":"mglte","logT":5.126,"frac":0.905,"text":"VIII"},{"panel":"mglte","logT":5.211,"frac":0.85,"text":"IX"},
{"panel":"cce","logT":4.034,"frac":1.03,"text":"I"},{"panel":"cce","logT":4.395,"frac":1.06,"text":"II"},{"panel":"cce","logT":4.848,"frac":0.94,"text":"III"},{"panel":"cce","logT":5.049,"frac":0.38,"text":"IV"},
{"panel":"clte","logT":4.078,"frac":1.07,"text":"II"},{"panel":"clte","logT":4.351,"frac":1.05,"text":"III"},{"panel":"clte","logT":4.529,"frac":1.01,"text":"IV"},{"panel":"clte","logT":5.074,"frac":1.08,"text":"V"},
{"panel":"sice","logT":4.036,"frac":0.5,"text":"I"},{"panel":"sice","logT":4.2,"frac":1.03,"text":"II"},{"panel":"sice","logT":4.7,"frac":1.0,"text":"III"},{"panel":"sice","logT":4.896,"frac":0.265,"text":"IV"},{"panel":"sice","logT":5.198,"frac":1.06,"text":"V"},
{"panel":"silte","logT":3.928,"frac":1.07,"text":"II"},{"panel":"silte","logT":4.199,"frac":1.06,"text":"III"},{"panel":"silte","logT":4.379,"frac":1.02,"text":"IV"},{"panel":"silte","logT":4.753,"frac":1.07,"text":"V"},{"panel":"silte","logT":4.984,"frac":0.97,"text":"VI"},{"panel":"silte","logT":5.085,"frac":0.94,"text":"VII"},{"panel":"silte","logT":5.16,"frac":0.9,"text":"VIII"},{"panel":"silte","logT":5.242,"frac":0.87,"text":"IX"}
],
"elements": [
{"panel":"hce","logT":3.735,"frac":1.0,"text":"H"},{"panel":"hlte","logT":3.735,"frac":1.0,"text":"H"},
{"panel":"mgce","logT":3.735,"frac":0.965,"text":"Mg"},{"panel":"mglte","logT":3.735,"frac":0.965,"text":"Mg"},
{"panel":"cce","logT":3.735,"frac":0.965,"text":"C"},{"panel":"clte","logT":3.735,"frac":0.965,"text":"C"},
{"panel":"sice","logT":3.735,"frac":0.965,"text":"Si"},{"panel":"silte","logT":3.735,"frac":0.965,"text":"Si"}
],
"regimes": [
{"panel":"hce","logT":5.368,"frac":1.0,"text":"CE"},{"panel":"hlte","logT":5.368,"frac":1.0,"text":"LTE"},
{"panel":"mgce","logT":5.368,"frac":0.965,"text":"CE"},{"panel":"mglte","logT":5.368,"frac":0.965,"text":"LTE"},
{"panel":"cce","logT":5.368,"frac":0.965,"text":"CE"},{"panel":"clte","logT":5.368,"frac":0.965,"text":"LTE"},
{"panel":"sice","logT":5.368,"frac":0.965,"text":"CE"},{"panel":"silte","logT":5.368,"frac":0.965,"text":"LTE"}
]
},
"spacing": 36,
"vconcat": [
{"spacing": 4, "vconcat": [
 {"width": 588, "height": 146, "resolve": {"axis": {"x": "independent", "y": "independent"}}, "layer": [
  {"data": {"name": "hce"}, "mark": {"type": "line", "clip": true, "interpolate": "monotone"},
   "encoding": {"x": {"field": "logT", "type": "quantitative", "scale": {"domain": [3.7, 5.4], "nice": false, "zero": false}, "axis": {"orient": "bottom", "values": [3.7,3.8,3.9,4.0,4.1,4.2,4.3,4.4,4.5,4.6,4.7,4.8,4.9,5.0,5.1,5.2,5.3,5.4], "labels": false, "title": null, "domain": true, "domainWidth": 2, "tickSize": {"condition": {"test": "abs(datum.value*2-round(datum.value*2))<0.01", "value": -8}, "value": -4}}},
    "y": {"field": "frac", "type": "quantitative", "scale": {"type": "log", "domain": [0.000001, 10], "nice": false}, "axis": {"orient": "left", "values": [0.000001,0.00001,0.0001,0.001,0.01,0.1,1], "labelExpr": "round(log(datum.value)/LN10)==0 ? '10⁰' : round(log(datum.value)/LN10)==-2 ? '10⁻²' : round(log(datum.value)/LN10)==-4 ? '10⁻⁴' : round(log(datum.value)/LN10)==-6 ? '10⁻⁶' : ''", "labelPadding": 13, "labelFlush": true, "labelOverlap": false, "domain": false, "tickSize": {"condition": {"test": "(round(log(datum.value)/LN10)+10)%2==0", "value": -8}, "value": -4}, "title": "fraction", "titleX": -61, "titleY": 73, "titleBaseline": "middle"}},
    "detail": {"field": "ion", "type": "nominal"}}},
  {"data": {"name": "hce2"}, "mark": {"type": "line", "clip": true, "strokeDash": [14, 8]},
   "encoding": {"x": {"field": "logT", "type": "quantitative", "axis": null}, "y": {"field": "frac", "type": "quantitative", "axis": null}, "detail": {"field": "ion", "type": "nominal"}}},
  {"data": {"name": "ionlabels"}, "transform": [{"filter": "datum.panel === 'hce'"}], "mark": {"type": "text", "fontSize": 18, "align": "center", "baseline": "middle"},
   "encoding": {"x": {"field": "logT", "type": "quantitative", "axis": {"orient": "top", "values": [3.7,3.8,3.9,4.0,4.1,4.2,4.3,4.4,4.5,4.6,4.7,4.8,4.9,5.0,5.1,5.2,5.3,5.4], "labels": false, "title": null, "domain": false, "tickSize": {"condition": {"test": "abs(datum.value*2-round(datum.value*2))<0.01", "value": -8}, "value": -4}}},
    "y": {"field": "frac", "type": "quantitative", "axis": {"orient": "right", "values": [0.000001,0.00001,0.0001,0.001,0.01,0.1,1], "labels": false, "title": null, "domain": false, "tickSize": {"condition": {"test": "(round(log(datum.value)/LN10)+10)%2==0", "value": -8}, "value": -4}}},
    "text": {"field": "text"}}},
  {"data": {"name": "elements"}, "transform": [{"filter": "datum.panel === 'hce'"}], "mark": {"type": "text", "fontSize": 24, "align": "left", "baseline": "alphabetic"},
   "encoding": {"x": {"field": "logT", "type": "quantitative", "axis": null}, "y": {"field": "frac", "type": "quantitative", "axis": null}, "text": {"field": "text"}}},
  {"data": {"name": "regimes"}, "transform": [{"filter": "datum.panel === 'hce'"}], "mark": {"type": "text", "fontSize": 24, "align": "right", "baseline": "alphabetic"},
   "encoding": {"x": {"field": "logT", "type": "quantitative", "axis": null}, "y": {"field": "frac", "type": "quantitative", "axis": null}, "text": {"field": "text"}}}
 ]},
 {"width": 588, "height": 146, "resolve": {"axis": {"x": "independent", "y": "independent"}}, "layer": [
  {"data": {"name": "hlte"}, "mark": {"type": "line", "clip": true, "interpolate": "monotone"},
   "encoding": {"x": {"field": "logT", "type": "quantitative", "scale": {"domain": [3.7, 5.4], "nice": false, "zero": false}, "axis": {"orient": "bottom", "values": [3.7,3.8,3.9,4.0,4.1,4.2,4.3,4.4,4.5,4.6,4.7,4.8,4.9,5.0,5.1,5.2,5.3,5.4], "labels": false, "title": null, "domain": true, "domainWidth": 2, "tickSize": {"condition": {"test": "abs(datum.value*2-round(datum.value*2))<0.01", "value": -8}, "value": -4}}},
    "y": {"field": "frac", "type": "quantitative", "scale": {"type": "log", "domain": [0.000001, 10], "nice": false}, "axis": {"orient": "left", "values": [0.000001,0.00001,0.0001,0.001,0.01,0.1,1], "labelExpr": "round(log(datum.value)/LN10)==0 ? '10⁰' : round(log(datum.value)/LN10)==-2 ? '10⁻²' : round(log(datum.value)/LN10)==-4 ? '10⁻⁴' : round(log(datum.value)/LN10)==-6 ? '10⁻⁶' : ''", "labelPadding": 13, "labelFlush": true, "labelOverlap": false, "domain": false, "tickSize": {"condition": {"test": "(round(log(datum.value)/LN10)+10)%2==0", "value": -8}, "value": -4}, "title": "fraction", "titleX": -61, "titleY": 73, "titleBaseline": "middle"}},
    "detail": {"field": "ion", "type": "nominal"}}},
  {"data": {"name": "hlte2"}, "mark": {"type": "line", "clip": true, "strokeDash": [14, 8], "interpolate": "monotone"},
   "encoding": {"x": {"field": "logT", "type": "quantitative", "axis": null}, "y": {"field": "frac", "type": "quantitative", "axis": null}, "detail": {"field": "ion", "type": "nominal"}}},
  {"data": {"name": "ionlabels"}, "transform": [{"filter": "datum.panel === 'hlte'"}], "mark": {"type": "text", "fontSize": 18, "align": "center", "baseline": "middle"},
   "encoding": {"x": {"field": "logT", "type": "quantitative", "axis": {"orient": "top", "values": [3.7,3.8,3.9,4.0,4.1,4.2,4.3,4.4,4.5,4.6,4.7,4.8,4.9,5.0,5.1,5.2,5.3,5.4], "labels": false, "title": null, "domain": false, "tickSize": {"condition": {"test": "abs(datum.value*2-round(datum.value*2))<0.01", "value": -8}, "value": -4}}},
    "y": {"field": "frac", "type": "quantitative", "axis": {"orient": "right", "values": [0.000001,0.00001,0.0001,0.001,0.01,0.1,1], "labels": false, "title": null, "domain": false, "tickSize": {"condition": {"test": "(round(log(datum.value)/LN10)+10)%2==0", "value": -8}, "value": -4}}},
    "text": {"field": "text"}}},
  {"data": {"name": "elements"}, "transform": [{"filter": "datum.panel === 'hlte'"}], "mark": {"type": "text", "fontSize": 24, "align": "left", "baseline": "alphabetic"},
   "encoding": {"x": {"field": "logT", "type": "quantitative", "axis": null}, "y": {"field": "frac", "type": "quantitative", "axis": null}, "text": {"field": "text"}}},
  {"data": {"name": "regimes"}, "transform": [{"filter": "datum.panel === 'hlte'"}], "mark": {"type": "text", "fontSize": 24, "align": "right", "baseline": "alphabetic"},
   "encoding": {"x": {"field": "logT", "type": "quantitative", "axis": null}, "y": {"field": "frac", "type": "quantitative", "axis": null}, "text": {"field": "text"}}}
 ]}
]},
{"spacing": 4, "vconcat": [
 {"width": 588, "height": 146, "resolve": {"axis": {"x": "independent", "y": "independent"}}, "layer": [
  {"data": {"name": "mgce"}, "mark": {"type": "line", "clip": true},
   "encoding": {"x": {"field": "logT", "type": "quantitative", "scale": {"domain": [3.7, 5.4], "nice": false, "zero": false}, "axis": {"orient": "bottom", "values": [3.7,3.8,3.9,4.0,4.1,4.2,4.3,4.4,4.5,4.6,4.7,4.8,4.9,5.0,5.1,5.2,5.3,5.4], "labels": false, "title": null, "domain": true, "domainWidth": 2, "tickSize": {"condition": {"test": "abs(datum.value*2-round(datum.value*2))<0.01", "value": -8}, "value": -4}}},
    "y": {"field": "frac", "type": "quantitative", "scale": {"domain": [0, 1.2], "nice": false, "zero": false}, "axis": {"orient": "left", "values": [0,0.1,0.2,0.3,0.4,0.5,0.6,0.7,0.8,0.9,1.0,1.1], "labelExpr": "abs(datum.value*2-round(datum.value*2))<0.01 ? format(datum.value, '.1f') : ''", "labelPadding": 13, "labelFlush": true, "labelOverlap": false, "domain": false, "tickSize": {"condition": {"test": "abs(datum.value*2-round(datum.value*2))<0.01", "value": -8}, "value": -4}, "title": "fraction", "titleX": -61, "titleY": 73, "titleBaseline": "middle"}},
    "detail": {"field": "ion", "type": "nominal"}}},
  {"data": {"name": "ionlabels"}, "transform": [{"filter": "datum.panel === 'mgce'"}], "mark": {"type": "text", "fontSize": 18, "align": "center", "baseline": "middle"},
   "encoding": {"x": {"field": "logT", "type": "quantitative", "axis": {"orient": "top", "values": [3.7,3.8,3.9,4.0,4.1,4.2,4.3,4.4,4.5,4.6,4.7,4.8,4.9,5.0,5.1,5.2,5.3,5.4], "labels": false, "title": null, "domain": false, "tickSize": {"condition": {"test": "abs(datum.value*2-round(datum.value*2))<0.01", "value": -8}, "value": -4}}},
    "y": {"field": "frac", "type": "quantitative", "axis": {"orient": "right", "values": [0,0.1,0.2,0.3,0.4,0.5,0.6,0.7,0.8,0.9,1.0,1.1], "labels": false, "title": null, "domain": false, "tickSize": {"condition": {"test": "abs(datum.value*2-round(datum.value*2))<0.01", "value": -8}, "value": -4}}},
    "text": {"field": "text"}}},
  {"data": {"name": "elements"}, "transform": [{"filter": "datum.panel === 'mgce'"}], "mark": {"type": "text", "fontSize": 24, "align": "left", "baseline": "alphabetic"},
   "encoding": {"x": {"field": "logT", "type": "quantitative", "axis": null}, "y": {"field": "frac", "type": "quantitative", "axis": null}, "text": {"field": "text"}}},
  {"data": {"name": "regimes"}, "transform": [{"filter": "datum.panel === 'mgce'"}], "mark": {"type": "text", "fontSize": 24, "align": "right", "baseline": "alphabetic"},
   "encoding": {"x": {"field": "logT", "type": "quantitative", "axis": null}, "y": {"field": "frac", "type": "quantitative", "axis": null}, "text": {"field": "text"}}}
 ]},
 {"width": 588, "height": 146, "resolve": {"axis": {"x": "independent", "y": "independent"}}, "layer": [
  {"data": {"name": "mglte"}, "mark": {"type": "line", "clip": true, "interpolate": "monotone"},
   "encoding": {"x": {"field": "logT", "type": "quantitative", "scale": {"domain": [3.7, 5.4], "nice": false, "zero": false}, "axis": {"orient": "bottom", "values": [3.7,3.8,3.9,4.0,4.1,4.2,4.3,4.4,4.5,4.6,4.7,4.8,4.9,5.0,5.1,5.2,5.3,5.4], "labels": false, "title": null, "domain": true, "domainWidth": 2, "tickSize": {"condition": {"test": "abs(datum.value*2-round(datum.value*2))<0.01", "value": -8}, "value": -4}}},
    "y": {"field": "frac", "type": "quantitative", "scale": {"domain": [0, 1.2], "nice": false, "zero": false}, "axis": {"orient": "left", "values": [0,0.1,0.2,0.3,0.4,0.5,0.6,0.7,0.8,0.9,1.0,1.1], "labelExpr": "abs(datum.value*2-round(datum.value*2))<0.01 ? format(datum.value, '.1f') : ''", "labelPadding": 13, "labelFlush": true, "labelOverlap": false, "domain": false, "tickSize": {"condition": {"test": "abs(datum.value*2-round(datum.value*2))<0.01", "value": -8}, "value": -4}, "title": "fraction", "titleX": -61, "titleY": 73, "titleBaseline": "middle"}},
    "detail": {"field": "ion", "type": "nominal"}}},
  {"data": {"name": "ionlabels"}, "transform": [{"filter": "datum.panel === 'mglte'"}], "mark": {"type": "text", "fontSize": 18, "align": "center", "baseline": "middle"},
   "encoding": {"x": {"field": "logT", "type": "quantitative", "axis": {"orient": "top", "values": [3.7,3.8,3.9,4.0,4.1,4.2,4.3,4.4,4.5,4.6,4.7,4.8,4.9,5.0,5.1,5.2,5.3,5.4], "labels": false, "title": null, "domain": false, "tickSize": {"condition": {"test": "abs(datum.value*2-round(datum.value*2))<0.01", "value": -8}, "value": -4}}},
    "y": {"field": "frac", "type": "quantitative", "axis": {"orient": "right", "values": [0,0.1,0.2,0.3,0.4,0.5,0.6,0.7,0.8,0.9,1.0,1.1], "labels": false, "title": null, "domain": false, "tickSize": {"condition": {"test": "abs(datum.value*2-round(datum.value*2))<0.01", "value": -8}, "value": -4}}},
    "text": {"field": "text"}}},
  {"data": {"name": "elements"}, "transform": [{"filter": "datum.panel === 'mglte'"}], "mark": {"type": "text", "fontSize": 24, "align": "left", "baseline": "alphabetic"},
   "encoding": {"x": {"field": "logT", "type": "quantitative", "axis": null}, "y": {"field": "frac", "type": "quantitative", "axis": null}, "text": {"field": "text"}}},
  {"data": {"name": "regimes"}, "transform": [{"filter": "datum.panel === 'mglte'"}], "mark": {"type": "text", "fontSize": 24, "align": "right", "baseline": "alphabetic"},
   "encoding": {"x": {"field": "logT", "type": "quantitative", "axis": null}, "y": {"field": "frac", "type": "quantitative", "axis": null}, "text": {"field": "text"}}}
 ]}
]},
{"spacing": 4, "vconcat": [
 {"width": 588, "height": 146, "resolve": {"axis": {"x": "independent", "y": "independent"}}, "layer": [
  {"data": {"name": "cce"}, "mark": {"type": "line", "clip": true},
   "encoding": {"x": {"field": "logT", "type": "quantitative", "scale": {"domain": [3.7, 5.4], "nice": false, "zero": false}, "axis": {"orient": "bottom", "values": [3.7,3.8,3.9,4.0,4.1,4.2,4.3,4.4,4.5,4.6,4.7,4.8,4.9,5.0,5.1,5.2,5.3,5.4], "labels": false, "title": null, "domain": true, "domainWidth": 2, "tickSize": {"condition": {"test": "abs(datum.value*2-round(datum.value*2))<0.01", "value": -8}, "value": -4}}},
    "y": {"field": "frac", "type": "quantitative", "scale": {"domain": [0, 1.2], "nice": false, "zero": false}, "axis": {"orient": "left", "values": [0,0.1,0.2,0.3,0.4,0.5,0.6,0.7,0.8,0.9,1.0,1.1], "labelExpr": "abs(datum.value*2-round(datum.value*2))<0.01 ? format(datum.value, '.1f') : ''", "labelPadding": 13, "labelFlush": true, "labelOverlap": false, "domain": false, "tickSize": {"condition": {"test": "abs(datum.value*2-round(datum.value*2))<0.01", "value": -8}, "value": -4}, "title": "fraction", "titleX": -61, "titleY": 73, "titleBaseline": "middle"}},
    "detail": {"field": "ion", "type": "nominal"}}},
  {"data": {"name": "ionlabels"}, "transform": [{"filter": "datum.panel === 'cce'"}], "mark": {"type": "text", "fontSize": 18, "align": "center", "baseline": "middle"},
   "encoding": {"x": {"field": "logT", "type": "quantitative", "axis": {"orient": "top", "values": [3.7,3.8,3.9,4.0,4.1,4.2,4.3,4.4,4.5,4.6,4.7,4.8,4.9,5.0,5.1,5.2,5.3,5.4], "labels": false, "title": null, "domain": false, "tickSize": {"condition": {"test": "abs(datum.value*2-round(datum.value*2))<0.01", "value": -8}, "value": -4}}},
    "y": {"field": "frac", "type": "quantitative", "axis": {"orient": "right", "values": [0,0.1,0.2,0.3,0.4,0.5,0.6,0.7,0.8,0.9,1.0,1.1], "labels": false, "title": null, "domain": false, "tickSize": {"condition": {"test": "abs(datum.value*2-round(datum.value*2))<0.01", "value": -8}, "value": -4}}},
    "text": {"field": "text"}}},
  {"data": {"name": "elements"}, "transform": [{"filter": "datum.panel === 'cce'"}], "mark": {"type": "text", "fontSize": 24, "align": "left", "baseline": "alphabetic"},
   "encoding": {"x": {"field": "logT", "type": "quantitative", "axis": null}, "y": {"field": "frac", "type": "quantitative", "axis": null}, "text": {"field": "text"}}},
  {"data": {"name": "regimes"}, "transform": [{"filter": "datum.panel === 'cce'"}], "mark": {"type": "text", "fontSize": 24, "align": "right", "baseline": "alphabetic"},
   "encoding": {"x": {"field": "logT", "type": "quantitative", "axis": null}, "y": {"field": "frac", "type": "quantitative", "axis": null}, "text": {"field": "text"}}}
 ]},
 {"width": 588, "height": 146, "resolve": {"axis": {"x": "independent", "y": "independent"}}, "layer": [
  {"data": {"name": "clte"}, "mark": {"type": "line", "clip": true, "interpolate": "monotone"},
   "encoding": {"x": {"field": "logT", "type": "quantitative", "scale": {"domain": [3.7, 5.4], "nice": false, "zero": false}, "axis": {"orient": "bottom", "values": [3.7,3.8,3.9,4.0,4.1,4.2,4.3,4.4,4.5,4.6,4.7,4.8,4.9,5.0,5.1,5.2,5.3,5.4], "labels": false, "title": null, "domain": true, "domainWidth": 2, "tickSize": {"condition": {"test": "abs(datum.value*2-round(datum.value*2))<0.01", "value": -8}, "value": -4}}},
    "y": {"field": "frac", "type": "quantitative", "scale": {"domain": [0, 1.2], "nice": false, "zero": false}, "axis": {"orient": "left", "values": [0,0.1,0.2,0.3,0.4,0.5,0.6,0.7,0.8,0.9,1.0,1.1], "labelExpr": "abs(datum.value*2-round(datum.value*2))<0.01 ? format(datum.value, '.1f') : ''", "labelPadding": 13, "labelFlush": true, "labelOverlap": false, "domain": false, "tickSize": {"condition": {"test": "abs(datum.value*2-round(datum.value*2))<0.01", "value": -8}, "value": -4}, "title": "fraction", "titleX": -61, "titleY": 73, "titleBaseline": "middle"}},
    "detail": {"field": "ion", "type": "nominal"}}},
  {"data": {"name": "ionlabels"}, "transform": [{"filter": "datum.panel === 'clte'"}], "mark": {"type": "text", "fontSize": 18, "align": "center", "baseline": "middle"},
   "encoding": {"x": {"field": "logT", "type": "quantitative", "axis": {"orient": "top", "values": [3.7,3.8,3.9,4.0,4.1,4.2,4.3,4.4,4.5,4.6,4.7,4.8,4.9,5.0,5.1,5.2,5.3,5.4], "labels": false, "title": null, "domain": false, "tickSize": {"condition": {"test": "abs(datum.value*2-round(datum.value*2))<0.01", "value": -8}, "value": -4}}},
    "y": {"field": "frac", "type": "quantitative", "axis": {"orient": "right", "values": [0,0.1,0.2,0.3,0.4,0.5,0.6,0.7,0.8,0.9,1.0,1.1], "labels": false, "title": null, "domain": false, "tickSize": {"condition": {"test": "abs(datum.value*2-round(datum.value*2))<0.01", "value": -8}, "value": -4}}},
    "text": {"field": "text"}}},
  {"data": {"name": "elements"}, "transform": [{"filter": "datum.panel === 'clte'"}], "mark": {"type": "text", "fontSize": 24, "align": "left", "baseline": "alphabetic"},
   "encoding": {"x": {"field": "logT", "type": "quantitative", "axis": null}, "y": {"field": "frac", "type": "quantitative", "axis": null}, "text": {"field": "text"}}},
  {"data": {"name": "regimes"}, "transform": [{"filter": "datum.panel === 'clte'"}], "mark": {"type": "text", "fontSize": 24, "align": "right", "baseline": "alphabetic"},
   "encoding": {"x": {"field": "logT", "type": "quantitative", "axis": null}, "y": {"field": "frac", "type": "quantitative", "axis": null}, "text": {"field": "text"}}}
 ]}
]},
{"spacing": 4, "vconcat": [
 {"width": 588, "height": 146, "resolve": {"axis": {"x": "independent", "y": "independent"}}, "layer": [
  {"data": {"name": "sice"}, "mark": {"type": "line", "clip": true},
   "encoding": {"x": {"field": "logT", "type": "quantitative", "scale": {"domain": [3.7, 5.4], "nice": false, "zero": false}, "axis": {"orient": "bottom", "values": [3.7,3.8,3.9,4.0,4.1,4.2,4.3,4.4,4.5,4.6,4.7,4.8,4.9,5.0,5.1,5.2,5.3,5.4], "labels": false, "title": null, "domain": true, "domainWidth": 2, "tickSize": {"condition": {"test": "abs(datum.value*2-round(datum.value*2))<0.01", "value": -8}, "value": -4}}},
    "y": {"field": "frac", "type": "quantitative", "scale": {"domain": [0, 1.2], "nice": false, "zero": false}, "axis": {"orient": "left", "values": [0,0.1,0.2,0.3,0.4,0.5,0.6,0.7,0.8,0.9,1.0,1.1], "labelExpr": "abs(datum.value*2-round(datum.value*2))<0.01 ? format(datum.value, '.1f') : ''", "labelPadding": 13, "labelFlush": true, "labelOverlap": false, "domain": false, "tickSize": {"condition": {"test": "abs(datum.value*2-round(datum.value*2))<0.01", "value": -8}, "value": -4}, "title": "fraction", "titleX": -61, "titleY": 73, "titleBaseline": "middle"}},
    "detail": {"field": "ion", "type": "nominal"}}},
  {"data": {"name": "ionlabels"}, "transform": [{"filter": "datum.panel === 'sice'"}], "mark": {"type": "text", "fontSize": 18, "align": "center", "baseline": "middle"},
   "encoding": {"x": {"field": "logT", "type": "quantitative", "axis": {"orient": "top", "values": [3.7,3.8,3.9,4.0,4.1,4.2,4.3,4.4,4.5,4.6,4.7,4.8,4.9,5.0,5.1,5.2,5.3,5.4], "labels": false, "title": null, "domain": false, "tickSize": {"condition": {"test": "abs(datum.value*2-round(datum.value*2))<0.01", "value": -8}, "value": -4}}},
    "y": {"field": "frac", "type": "quantitative", "axis": {"orient": "right", "values": [0,0.1,0.2,0.3,0.4,0.5,0.6,0.7,0.8,0.9,1.0,1.1], "labels": false, "title": null, "domain": false, "tickSize": {"condition": {"test": "abs(datum.value*2-round(datum.value*2))<0.01", "value": -8}, "value": -4}}},
    "text": {"field": "text"}}},
  {"data": {"name": "elements"}, "transform": [{"filter": "datum.panel === 'sice'"}], "mark": {"type": "text", "fontSize": 24, "align": "left", "baseline": "alphabetic"},
   "encoding": {"x": {"field": "logT", "type": "quantitative", "axis": null}, "y": {"field": "frac", "type": "quantitative", "axis": null}, "text": {"field": "text"}}},
  {"data": {"name": "regimes"}, "transform": [{"filter": "datum.panel === 'sice'"}], "mark": {"type": "text", "fontSize": 24, "align": "right", "baseline": "alphabetic"},
   "encoding": {"x": {"field": "logT", "type": "quantitative", "axis": null}, "y": {"field": "frac", "type": "quantitative", "axis": null}, "text": {"field": "text"}}}
 ]},
 {"width": 588, "height": 146, "resolve": {"axis": {"x": "independent", "y": "independent"}}, "layer": [
  {"data": {"name": "silte"}, "mark": {"type": "line", "clip": true, "interpolate": "monotone"},
   "encoding": {"x": {"field": "logT", "type": "quantitative", "scale": {"domain": [3.7, 5.4], "nice": false, "zero": false}, "axis": {"orient": "bottom", "values": [3.7,3.8,3.9,4.0,4.1,4.2,4.3,4.4,4.5,4.6,4.7,4.8,4.9,5.0,5.1,5.2,5.3,5.4], "labels": true, "labelExpr": "abs(datum.value*2-round(datum.value*2))<0.01 ? format(datum.value, '.1f') : ''", "labelPadding": 14, "labelOverlap": false, "labelFlush": false, "title": "log (temperature)\u00a0 [K]", "titlePadding": 2, "domain": true, "domainWidth": 2, "tickSize": {"condition": {"test": "abs(datum.value*2-round(datum.value*2))<0.01", "value": -8}, "value": -4}}},
    "y": {"field": "frac", "type": "quantitative", "scale": {"domain": [0, 1.2], "nice": false, "zero": false}, "axis": {"orient": "left", "values": [0,0.1,0.2,0.3,0.4,0.5,0.6,0.7,0.8,0.9,1.0,1.1], "labelExpr": "abs(datum.value*2-round(datum.value*2))<0.01 ? format(datum.value, '.1f') : ''", "labelPadding": 13, "labelFlush": true, "labelOverlap": false, "domain": false, "tickSize": {"condition": {"test": "abs(datum.value*2-round(datum.value*2))<0.01", "value": -8}, "value": -4}, "title": "fraction", "titleX": -61, "titleY": 73, "titleBaseline": "middle"}},
    "detail": {"field": "ion", "type": "nominal"}}},
  {"data": {"name": "ionlabels"}, "transform": [{"filter": "datum.panel === 'silte'"}], "mark": {"type": "text", "fontSize": 18, "align": "center", "baseline": "middle"},
   "encoding": {"x": {"field": "logT", "type": "quantitative", "axis": {"orient": "top", "values": [3.7,3.8,3.9,4.0,4.1,4.2,4.3,4.4,4.5,4.6,4.7,4.8,4.9,5.0,5.1,5.2,5.3,5.4], "labels": false, "title": null, "domain": false, "tickSize": {"condition": {"test": "abs(datum.value*2-round(datum.value*2))<0.01", "value": -8}, "value": -4}}},
    "y": {"field": "frac", "type": "quantitative", "axis": {"orient": "right", "values": [0,0.1,0.2,0.3,0.4,0.5,0.6,0.7,0.8,0.9,1.0,1.1], "labels": false, "title": null, "domain": false, "tickSize": {"condition": {"test": "abs(datum.value*2-round(datum.value*2))<0.01", "value": -8}, "value": -4}}},
    "text": {"field": "text"}}},
  {"data": {"name": "elements"}, "transform": [{"filter": "datum.panel === 'silte'"}], "mark": {"type": "text", "fontSize": 24, "align": "left", "baseline": "alphabetic"},
   "encoding": {"x": {"field": "logT", "type": "quantitative", "axis": null}, "y": {"field": "frac", "type": "quantitative", "axis": null}, "text": {"field": "text"}}},
  {"data": {"name": "regimes"}, "transform": [{"filter": "datum.panel === 'silte'"}], "mark": {"type": "text", "fontSize": 24, "align": "right", "baseline": "alphabetic"},
   "encoding": {"x": {"field": "logT", "type": "quantitative", "axis": null}, "y": {"field": "frac", "type": "quantitative", "axis": null}, "text": {"field": "text"}}}
 ]}
]}
]
}
